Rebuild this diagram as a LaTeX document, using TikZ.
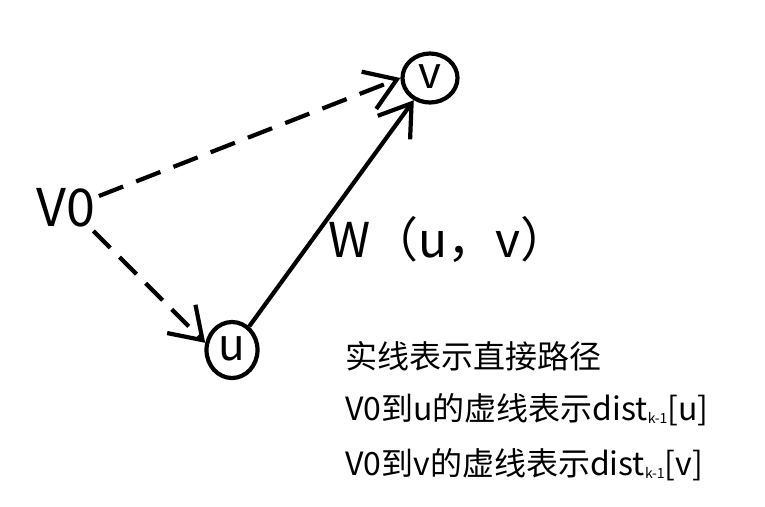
\documentclass[tikz,border=0pt]{standalone}
\usepackage{fontspec}
\setmainfont{Noto Sans CJK SC}
\usetikzlibrary{arrows.meta,shapes.geometric}

\begin{document}
\begin{tikzpicture}[x=1pt, y=-1pt,
  vertex/.style={draw, ellipse, line width=4.2pt, inner sep=0pt, font=\fontsize{44}{44}\selectfont},
  edge/.style={line width=4.2pt, -{Straight Barb[length=30pt, width=40pt, line width=4.2pt]}},
  note/.style={anchor=west, inner sep=0pt, font=\fontsize{32}{32}\selectfont}]

\useasboundingbox[fill=white] (0,0) rectangle (765,506);

% vertices
\node (V0) at (66,208) {\fontsize{52}{52}\selectfont V0};
\node[vertex, minimum width=55pt, minimum height=49pt] (v) at (430,78) {\raisebox{3pt}{v}};
\node[vertex, minimum width=51pt, minimum height=56pt] (u) at (232,350) {\raisebox{3pt}{u}};

% edges
\draw[edge, dash pattern=on 26pt off 14pt] (V0.20) -- (v.west);
\draw[edge, dash pattern=on 24pt off 13pt] (V0.-40) -- (u.165);
\draw[edge] (u) -- (v);

\node[anchor=west, inner sep=0pt, font=\fontsize{48}{48}\selectfont] (w) at (328,240) {W（u，v）};

% notes
\node[note] (n1) at (345,356) {实线表示直接路径};
\node[note] (n2) at (345,410) {V0到u的虚线表示dist\raisebox{-3pt}{\fontsize{14}{14}\selectfont k-1}[u]};
\node[note] (n3) at (345,465) {V0到v的虚线表示dist\raisebox{-3pt}{\fontsize{14}{14}\selectfont k-1}[v]};

\end{tikzpicture}
\end{document}
